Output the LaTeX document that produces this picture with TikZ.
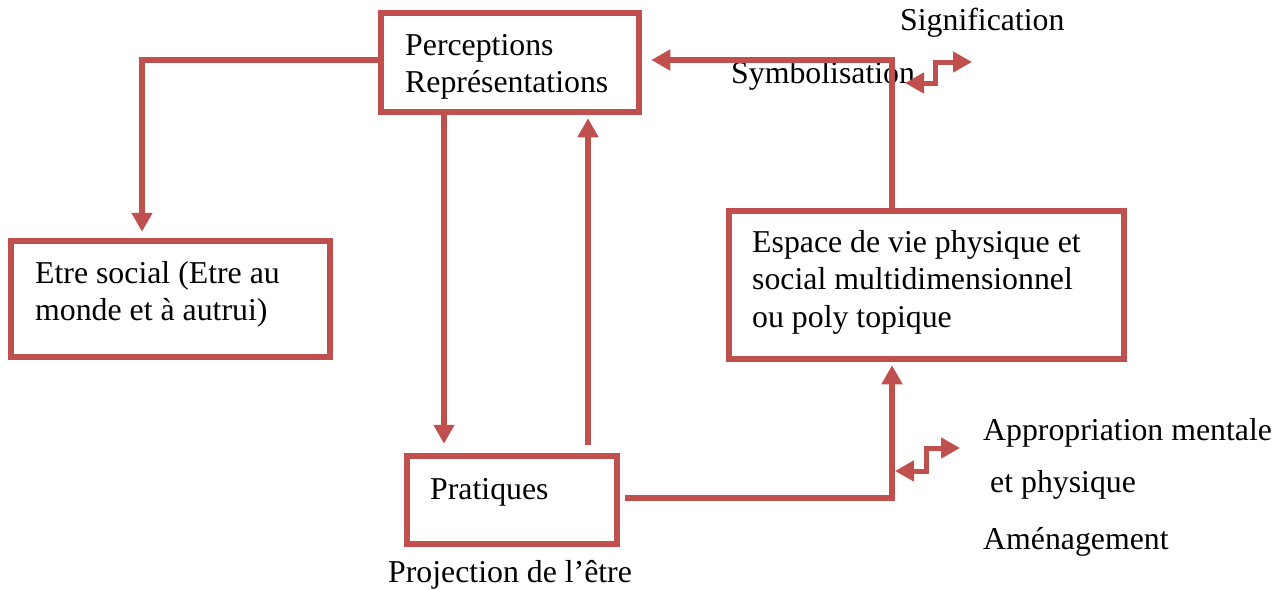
\documentclass[tikz,border=0pt]{standalone}
\usepackage{fontspec}
\setmainfont{Liberation Serif}
\usetikzlibrary{arrows.meta}
\definecolor{accentred}{HTML}{C0504D}
% left-aligned lines whose reference point is the first baseline
\newcommand\leftlines[1]{\begin{tabular}[t]{@{}l@{}}#1\end{tabular}}
\begin{document}
\begin{tikzpicture}[x=1pt,y=-1pt,
  box/.style={draw=accentred, line width=6.5pt, rectangle, inner sep=0pt},
  txt/.style={anchor=base west, inner sep=0pt,
    font=\fontsize{31.8}{37.5}\selectfont},
  link/.style={draw=accentred, line width=6pt,
    -{Triangle[width=20pt,length=19pt]}},
  zigzag/.style={draw=accentred, line width=5pt,
    {Triangle[width=20pt,length=19pt]}-{Triangle[width=20pt,length=19pt]}}
]
\useasboundingbox (0,0) rectangle (1287,589);

% boxes
\node[box, minimum width=258pt, minimum height=99pt]  (perc)   at (510,62.5) {};
\node[box, minimum width=319pt, minimum height=116pt] (etre)   at (170.5,299) {};
\node[box, minimum width=395pt, minimum height=148pt] (espace) at (926.5,285) {};
\node[box, minimum width=210pt, minimum height=88pt]  (prat)   at (512,500) {};

% texts
\node[txt] (tperc) at (405,55) {\leftlines{Perceptions\\Représentations}};
\node[txt] (tetre) at (35,283) {\leftlines{Etre social (Etre au\\monde et à autrui)}};
\node[txt] (tesp)  at (752,252) {\leftlines{Espace de vie physique et\\social multidimensionnel\\ou poly topique}};
\node[txt] (tprat) at (430,499) {Pratiques};
\node[txt] (tproj) at (388,582) {Projection de l’être};
\node[txt] (tsig)  at (900,30) {Signification};
\node[txt] (tsym)  at (731,83) {Symbolisation};
\node[txt] (tapp1) at (983,440) {Appropriation mentale};
\node[txt] (tapp2) at (990,492) {et physique};
\node[txt] (tamen) at (983,549) {Aménagement};

% routing helpers
\coordinate (ytop)   at (0,60);
\coordinate (ybot)   at (0,498);
\coordinate (xleft)  at (142,0);
\coordinate (xdown)  at (444,0);
\coordinate (xup)    at (588,0);
\coordinate (xright) at (892,0);

% connectors
\draw[link, shorten >=6pt] (perc.west |- ytop) -| (xleft |- etre.north);
\draw[link, shorten >=9pt] (perc.south -| xdown) -- (prat.north -| xdown);
\draw[link, shorten <=8pt, shorten >=3pt] (prat.north -| xup) -- (perc.south -| xup);
\draw[link, shorten <=5pt, shorten >=3pt] (prat.east |- ybot) -| (espace.south -| xright);
\draw[link, shorten >=9pt] (espace.north -| xright) |- (perc.east |- ytop);

% two-way step arrows
\coordinate (za1) at (905,83);
\coordinate (za2) at (935,83);
\coordinate (za3) at (935,62);
\coordinate (za4) at (972,62);
\draw[zigzag] (za1) -- (za2) -- (za3) -- (za4);

\coordinate (zb1) at (895,471);
\coordinate (zb2) at (926,471);
\coordinate (zb3) at (926,448);
\coordinate (zb4) at (960,448);
\draw[zigzag] (zb1) -- (zb2) -- (zb3) -- (zb4);
\end{tikzpicture}
\end{document}
